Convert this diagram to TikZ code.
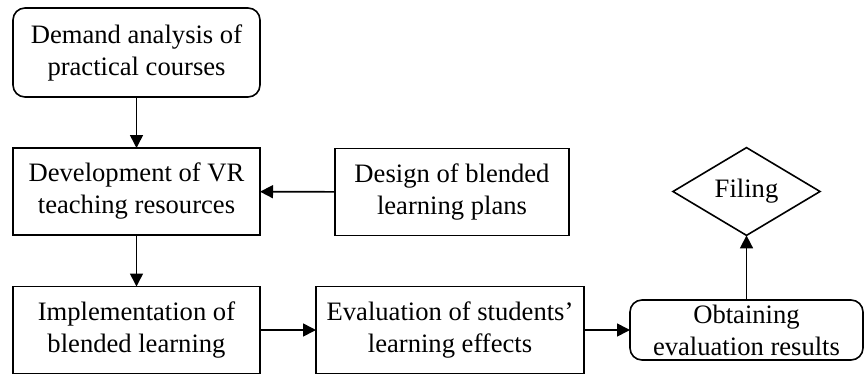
\documentclass[tikz,border=0pt]{standalone}
\usepackage{fontspec}
\setmainfont{Liberation Serif}
\usetikzlibrary{arrows.meta, shapes.geometric}

\begin{document}
\begin{tikzpicture}[x=0.5pt, y=-0.5pt, >={Triangle[length=6.5pt, width=6.5pt]},
                line width=0.8pt,
                every node/.style={font=\fontsize{13.3pt}{16pt}\selectfont, align=center, inner sep=0pt, outer sep=0pt},
                stepbox/.style={draw, rectangle, minimum height=43.5pt},
                roundbox/.style={draw, rectangle, rounded corners=6pt},
                decision/.style={draw, diamond, minimum width=73.5pt, minimum height=43.5pt}
            ]

            \useasboundingbox (0, 0) rectangle (865, 374);

            \node[roundbox, minimum width=123.5pt, minimum height=44.5pt] (demand) at (136.5, 52.5) {Demand analysis of\\practical courses};
            \node[stepbox, minimum width=123.5pt] (develop) at (136.5, 191.5) {Development of VR\\teaching resources};
            \node[stepbox, minimum width=117pt] (design) at (452, 192) {Design of blended\\learning plans};
            \node[stepbox, minimum width=123.5pt] (implement) at (136.5, 330) {Implementation of\\blended learning};
            \node[stepbox, minimum width=134pt] (evaluate) at (450, 330) {Evaluation of students’\\learning effects};
            \node[roundbox, minimum width=116.5pt, minimum height=30pt] (obtain) at (746.5, 330) {Obtaining\\evaluation results};
            \node[decision] (filing) at (746.5, 191.5) {Filing};

            \draw[->] (demand) -- (develop);
            \draw[->] (design) -- (develop);
            \draw[->] (develop) -- (implement);
            \draw[->] (implement) -- (evaluate);
            \draw[->] (evaluate) -- (obtain);
            \draw[->] (obtain) -- (filing);
        \end{tikzpicture}
\end{document}
